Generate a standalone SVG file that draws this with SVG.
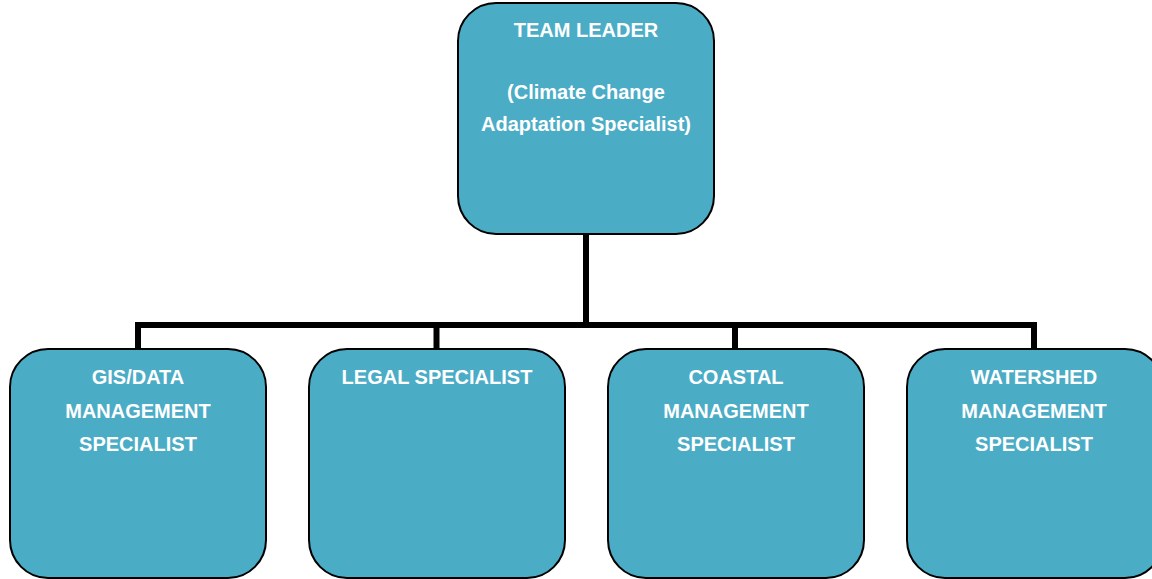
<svg xmlns="http://www.w3.org/2000/svg" width="1152" height="579" viewBox="0 0 1152 579">
<style>
.box{fill:#4BACC6;stroke:#000;stroke-width:2}
.t{font-family:"Liberation Sans",Arial,sans-serif;font-weight:bold;font-size:20px;fill:#fff;text-anchor:middle}
.c{fill:none;stroke:#000;stroke-width:6;stroke-linejoin:miter;stroke-linecap:butt}
</style>
<rect width="1152" height="579" fill="#fff"/>
<g id="connectors">
<path class="c" d="M586,234 V325"/>
<path class="c" d="M138,349 V325 H1034 V349"/>
<path class="c" d="M436.5,325 V349"/>
<path class="c" d="M735,325 V349"/>
</g>
<g id="team-leader">
<rect class="box" x="458" y="3" width="256" height="231" rx="38" ry="38"/>
<text class="t" x="586" y="37">TEAM LEADER</text>
<text class="t" x="586" y="99">(Climate Change</text>
<text class="t" x="586" y="131">Adaptation Specialist)</text>
</g>
<g id="gis">
<rect class="box" x="10" y="349" width="256" height="229" rx="38" ry="38"/>
<text class="t" x="138" y="384">GIS/DATA</text>
<text class="t" x="138" y="418">MANAGEMENT</text>
<text class="t" x="138" y="451">SPECIALIST</text>
</g>
<g id="legal">
<rect class="box" x="309" y="349" width="256" height="229" rx="38" ry="38"/>
<text class="t" x="437" y="384">LEGAL SPECIALIST</text>
</g>
<g id="coastal">
<rect class="box" x="608" y="349" width="256" height="229" rx="38" ry="38"/>
<text class="t" x="736" y="384">COASTAL</text>
<text class="t" x="736" y="418">MANAGEMENT</text>
<text class="t" x="736" y="451">SPECIALIST</text>
</g>
<g id="watershed">
<rect class="box" x="907" y="349" width="256" height="229" rx="38" ry="38"/>
<text class="t" x="1034" y="384">WATERSHED</text>
<text class="t" x="1034" y="418">MANAGEMENT</text>
<text class="t" x="1034" y="451">SPECIALIST</text>
</g>
</svg>
